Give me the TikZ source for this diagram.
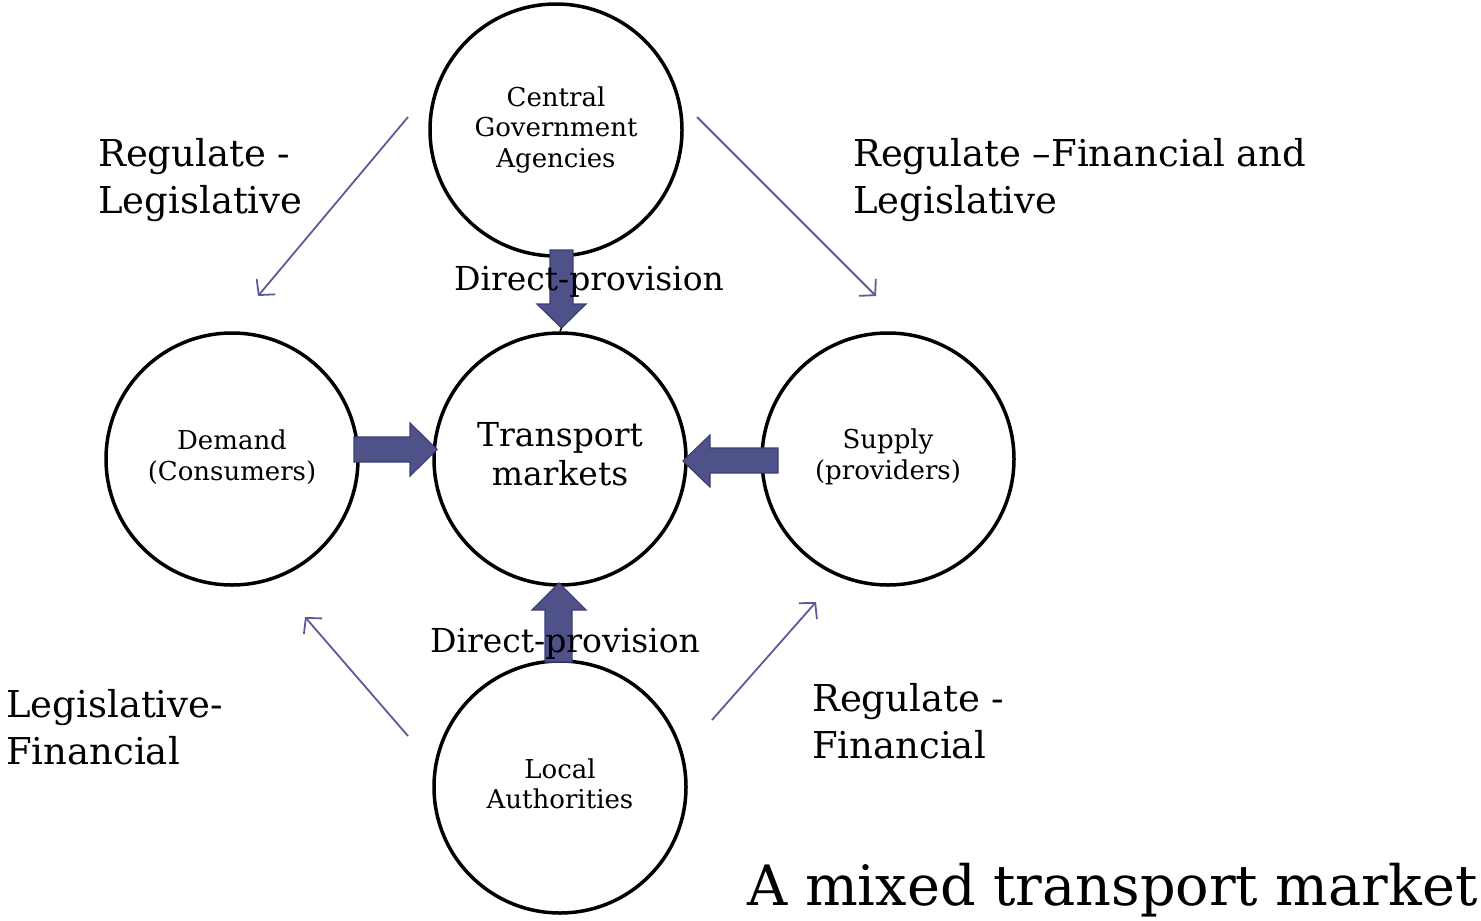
\documentclass[tikz,border=0pt]{standalone}
\usepackage{fontspec}
\setmainfont{DejaVu Serif}
\usetikzlibrary{arrows.meta}
\definecolor{blockfill}{HTML}{4F5189}
\definecolor{blockedge}{HTML}{3C3E75}
\definecolor{thinarrow}{HTML}{5A5C98}
\tikzset{
  circ/.style={circle, draw=black, line width=3.5pt, minimum size=252pt, inner sep=0pt, align=center},
  small/.style={font=\fontsize{26}{30.5}\selectfont},
  big/.style={font=\fontsize{33}{39}\selectfont},
  lbl/.style={font=\fontsize{37}{47}\selectfont, align=left, inner sep=0pt, anchor=north west},
  dp/.style={font=\fontsize{33}{40}\selectfont, inner sep=0pt},
  block/.style={fill=blockfill, draw=blockedge, line width=1.2pt},
  thin/.style={draw=thinarrow, line width=1.8pt, -{Straight Barb[length=11pt,width=24pt,line width=1.8pt]}}
}
\begin{document}
\begin{tikzpicture}[x=1pt,y=-1pt]
\useasboundingbox (0,0) rectangle (1481,921);
\node[circ, small] (cga) at (556,130) {Central\\Government\\Agencies};
\node[circ] (tm) at (560,459) {};
\node[big, align=center, inner sep=0pt] (tmt) at (560,454) {Transport\\markets};
\node[circ] (dem) at (232,459) {};
\node[small, align=center, inner sep=0pt] (demt) at (232,457) {Demand\\(Consumers)};
\node[circ] (sup) at (888,459) {};
\node[small, align=center, inner sep=0pt] (supt) at (888,457) {Supply\\(providers)};
\node[circ] (loc) at (560,787) {};
\node[small, align=center, inner sep=0pt] (loct) at (560,784) {Local\\Authorities};

% labels
\node[lbl] (l1) at (98,138) {Regulate -\\Legislative};
\node[lbl] (l2) at (853,138) {Regulate --Financial and\\Legislative};
\node[lbl] (l3) at (6,689) {Legislative-\\Financial};
\node[lbl] (l4) at (812,683) {Regulate -\\Financial};
\node[font=\fontsize{55.7}{60}\selectfont, inner sep=0pt, anchor=base east] (title) at (1478,905) {A mixed transport market};

% block arrows
\draw[block] (550,250) -- (573,250) -- (573,304) -- (586,304) -- (561.5,328) -- (537,304) -- (550,304) -- cycle;
\draw[black, line width=1.5pt] (561.5,328) -- (tm.north);
\draw[block] (354,437) -- (410,437) -- (410,423) -- (437,449.5) -- (410,476) -- (410,462) -- (354,462) -- cycle;
\draw[block] (778,448) -- (710,448) -- (710,435) -- (683,461) -- (710,487) -- (710,473) -- (778,473) -- cycle;
\draw[block] (545,662) -- (545,610) -- (532,610) -- (559,583) -- (586,610) -- (572,610) -- (572,662) -- cycle;

\node[dp] (dp1) at (589,282) {Direct-provision};
\node[dp] (dp2) at (565,644) {Direct-provision};

% thin arrows
\coordinate (a1s) at (408,117); \coordinate (a1e) at (258,296);
\coordinate (a2s) at (697,117); \coordinate (a2e) at (876,296);
\coordinate (a3s) at (408,736); \coordinate (a3e) at (305,617);
\coordinate (a4s) at (712,720); \coordinate (a4e) at (816,602);
\draw[thin] (a1s) -- (a1e);
\draw[thin] (a2s) -- (a2e);
\draw[thin] (a3s) -- (a3e);
\draw[thin] (a4s) -- (a4e);
\end{tikzpicture}
\end{document}
